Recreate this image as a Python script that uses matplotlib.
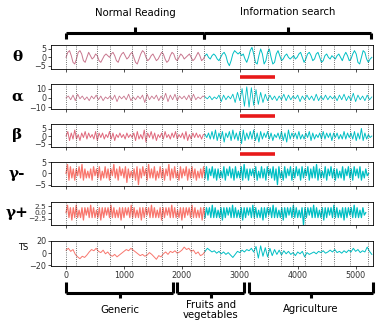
import matplotlib
matplotlib.use("Agg")
import matplotlib.pyplot as plt
import matplotlib.transforms as mtransforms
import numpy as np

# sample spacing of every band
theta_step = 30
theta = [0, 3, 4, 1, -3, -4, -1, 3, 4, 2, -2, -3, 0, 3, 1, -1, 0, 2, 1, -2,
         -3, -1, 1, 2, 1, 0, 2, 3, 1, -2, -3, 0, 2, 3, 1, -1, 0, 2, 3, 0,
         -3, -4, -1, 2, 4, 3, 0, -2, -1, 1, 2, 0, -2, -1, 1, 3, 2, -1, -3, -2,
         1, 3, 2, -1, -2, 0, 2, 1, -1, 0, 1, 2, 0, -2, -1, 1, 3, 1, -2, -1,
         1, 2, 0, -1, 1, 2, 1, -1, -2, 0, 2, 3, 1, -3, -5, -2, 2, 4, 3, 2,
         3, 1, 2, -1, -3, 0, 4, 6, 2, -3, -4, 1, 5, 2, -4, -2, 3, 5, 0, -4,
         -3, 2, 4, 1, -2, -1, 1, 2, 0, -1, 0, 1, -1, 0, 2, 3, 0, -3, -1, 2,
         3, 1, -2, -1, 2, 3, 0, -3, -2, 1, 2, 0, -1, 1, 0, -1, 1, 2, 0, -2,
         1, 3, 1, -2, -1, 2, 4, 2, -3, -4, 0, 4, 3, -1, -3, -1, 0]

alpha_step = 40
alpha = [0, 2, -2, 3, -3, 4, -1, 2, -2, 1, -3, 2, -1, 3, -2, 2, -3, 1, -1, 2,
         -2, 3, -4, 2, -1, 2, -2, 4, -3, 1, -2, 2, -1, 3, -5, 4, -2, 2, -1, 3,
         -3, 2, -2, 5, -4, 3, -2, 4, -3, 2, -1, 2, -2, 3, -3, 4, -2, 1, -1, 2,
         1, -1, 2, -2, 1, -1, 3, -4, 3, -2, 2, -1, 4, -5, 6, -3, 10, -9, 12, -10,
         11, -8, 9, -7, 6, -5, 4, -3, 3, -2, 2, -3, 2, -2, 4, -3, 3, -2, 2, -1,
         3, -4, 2, -2, 3, -2, 2, -3, 4, -3, 2, -2, 3, -2, 2, -1, 2, -3, 3, -2,
         4, -3, 2, -3, 5, -4, 3, -2, 2, -3, 3, -2, 1]

beta_step = 30
beta = [0, 3, -3, 2, -2, 4, -2, 1, -3, 2, -1, 3, -2, 2, -1, 1, -2, 3, -3, 2,
        -1, 2, -2, 1, -1, 3, -2, 2, -3, 1, -1, 2, -1, 1, -2, 2, -1, 1, -1, 2,
        -3, 3, -2, 1, -2, 4, -4, 2, -1, 3, -2, 2, -3, 1, -1, 2, -2, 3, -1, 1,
        -2, 2, -1, 3, -2, 1, -1, 2, -2, 3, -3, 1, -2, 2, -1, 2, -1, 1, -2, 1,
        1, -1, 2, -2, 3, -2, 4, -3, 2, -2, 3, -4, 2, -1, 3, -3, 4, -2, 2, -3,
        3, -5, 4, -3, 2, -2, 3, -2, 4, -3, 2, -4, 3, -2, 2, -1, 3, -2, 2, -3,
        1, -1, 2, -2, 3, -3, 2, -4, 4, -2, 2, -1, 2, -2, 3, -2, 1, -2, 2, -1,
        3, -3, 2, -2, 1, -1, 2, -2, 3, -2, 2, -1, 2, -3, 2, -1, 2, -2, 1, -2,
        3, -2, 2, -1, 2, -2, 3, -3, 2, -2, 5, -3, 2, -2, 1, -1, 0]

gamma_step = 25
gamma_lo = [0, 4, -3, 3, -2, 2, -3, 2, -1, 3, -2, 4, -3, 2, -2, 1, -2, 2, -3, 3,
            -1, 2, -2, 3, -3, 1, -2, 3, -2, 2, -3, 2, -1, 4, -2, 2, -3, 3, -1, 2,
            -2, 3, -4, 2, -2, 1, -2, 2, -3, 3, -5, 2, -2, 3, -1, 2, -3, 4, -2, 2,
            -2, 3, -3, 1, -2, 3, -2, 2, -3, 2, -1, 4, -3, 2, -2, 3, -2, 1, -3, 3,
            -2, 2, -1, 3, -3, 2, -2, 3, -2, 2, -3, 1, -2, 2, -2, 3,
            -2, 3, -3, 2, -1, 3, -2, 2, -3, 2, -2, 1, -2, 3, -3, 2, -1, 3, -2, 2,
            -3, 3, -2, 1, -2, 3, -3, 4, -2, 2, -3, 2, -1, 2, -2, 3, -3, 1, -2, 3,
            -2, 2, -3, 3, -1, 2, -2, 3, -3, 2, -5, 3, -2, 1, -3, 3, -2, 2, -1, 3,
            -3, 2, -2, 3, -1, 2, -3, 3, -2, 2, -1, 3, -3, 2, -2, 3, -2, 4, -3, 2,
            -2, 1, -2, 3, -3, 2, -1, 3, -2, 2, -3, 2, -2, 1, -2, 3, -3, 2, -1, 3,
            -2, 2, -3, 3, -1, 2, -2, 3, -3, 1, -2, 2, -1, 0]
gamma_hi = [0, 3, -2, 2, -3, 2, -2, 3, -2, 1, -2, 2, -3, 2, -1, 2, -2, 3, -2, 2,
            -2, 1, -2, 2, -3, 2, -2, 2, -1, 2, -2, 3, -2, 2, -2, 1, -2, 2, -3, 2,
            -2, 2, -1, 2, -2, 3, -2, 2, -2, 1, -2, 2, -3, 2, -2, 2, -1, 2, -2, 3,
            -2, 2, -2, 1, -2, 2, -3, 2, -2, 2, -1, 2, -2, 3, -2, 2, -2, 1, -2, 2,
            -3, 2, -2, 2, -1, 2, -2, 3, -2, 2, -2, 1, -2, 2, -3, 2,
            -2, 2, -1, 2, -2, 3, -2, 2, -2, 1, -2, 2, -3, 2, -2, 2, -1, 2, -2, 3,
            -2, 2, -2, 1, -2, 2, -3, 2, -2, 2, -1, 2, -2, 3, -2, 2, -2, 1, -2, 2,
            -3, 2, -2, 2, -1, 2, -2, 3, -2, 2, -2, 1, -2, 2, -3, 2, -2, 2, -1, 2,
            -2, 3, -2, 2, -2, 1, -2, 2, -5, 2, -2, 2, -1, 2, -2, 3, -2, 2, -2, 1,
            -2, 2, -3, 2, -2, 2, -1, 2, -2, 3, -2, 2, -2, 1, -2, 2, -3, 2, -2, 2,
            -1, 2, -2, 3, -2, 2, -2, 1, -2, 2, -1, 0]

ts_step = 40
ts = [5, 8, 3, 6, -2, -6, -9, -5, -7, -3, 2, 6, 4, 8, 3, 1, 5, -1, 2, -3,
      -5, -2, -6, -3, 0, 3, 6, 4, 8, 5, 2, -1, -4, -2, -5, -3, 1, -2, -6, -10,
      -4, -6, -1, 2, -2, 3, 1, 4, 0, 2, 5, 10, 6, 8, 3, 5, -1, 2, -4, -2,
      3, 8, 5, 2, 4, 0, 3, -1, 2, -2, 1, -3, -7, -2, 3, 1, 5, 2, 6, 4,
      8, 2, 11, -8, 12, -5, 9, -6, 8, -4, 6, -2, 5, -3, 4, -1, 3, -2, 1, -4,
      2, -1, 3, -6, 1, -2, 0, 2, -1, 3, 1, 4, 0, 2, 5, 2, 6, 1, 3, 0,
      4, 1, 5, 2, 8, 3, 6, 1, 4, 2, 10, 3, -2]

split_at = 2390
marks = [0, 170, 540, 760, 1130, 1380, 1660, 1920, 2150, 2390, 2660, 3010,
         3250, 3480, 3720, 3910, 4130, 4400, 4620, 4910, 5210]

labels = ["θ", "α", "β", "γ-", "γ+", "TS"]
series = [(theta, theta_step), (alpha, alpha_step), (beta, beta_step),
          (gamma_lo, gamma_step), (gamma_hi, gamma_step), (ts, ts_step)]
left_colors = ["#c8768e", "#c8768e", "#e0687c", "#F8766D", "#F8766D", "#F8766D"]
widths = [0.7, 0.6, 0.7, 0.9, 0.9, 0.7]
teal = "#00BFC4"

# panel boxes (pixels, top / bottom) and y limits
boxes = [(45, 69), (84, 109), (124, 147), (162, 186), (202, 225), (241, 266)]
ylims = [(-7, 7.4), (-12, 15), (-7.3, 8), (-5.6, 5.1), (-5, 4.3), (-21, 20)]
yticks = [[-5, 0, 5], [-10, 0, 10], [-5, 0, 5], [-5, 0, 5], [-2.5, 0, 2.5], [-20, 0, 20]]

W, H = 385, 322
fig = plt.figure(figsize=(3.85, 3.22), dpi=100)

axes = []
for i, (vals, step) in enumerate(series):
    top, bot = boxes[i]
    ax = fig.add_axes([51 / W, 1 - bot / H, (373 - 51) / W, (bot - top) / H])
    axes.append(ax)
    y = np.array(vals, dtype=float)
    x = np.arange(len(y)) * step
    k = int(np.searchsorted(x, split_at))
    ax.plot(x[:k + 1], y[:k + 1], color=left_colors[i], lw=widths[i])
    ax.plot(x[k:], y[k:], color=teal, lw=widths[i])
    for m in marks:
        ax.axvline(m, color="#444444", ls=":", lw=0.6)
    ax.set_xlim(-260, 5300)
    ax.set_ylim(*ylims[i])
    ax.set_yticks(yticks[i])
    ax.set_xticks([0, 1000, 2000, 3000, 4000, 5000])
    fs = 5.4 if i == 4 else 5.8
    ax.tick_params(labelsize=fs, length=2.5, width=0.6, pad=1, colors="#333333")
    if i < 5:
        ax.set_xticklabels([])
    for s in ax.spines.values():
        s.set_linewidth(0.6)
    yc = 1 - (top + bot) / 2 / H
    if labels[i] == "TS":
        fig.text(23 / W, 1 - 248 / H, "TS", fontsize=6, ha="center", va="center")
    else:
        fig.text(17 / W, yc, labels[i], fontsize=11, fontweight="bold",
                 family="DejaVu Serif", ha="center", va="center")

trans = mtransforms.blended_transform_factory(axes[0].transData, fig.transFigure)


def fy(py):
    return 1 - py / H


def bracket(x0, x1, ybar, yend, ytick):
    kw = dict(transform=trans, color="black", lw=2.2, solid_capstyle="butt",
              clip_on=False)
    fig.add_artist(plt.Line2D([x0, x1], [fy(ybar), fy(ybar)], **kw))
    fig.add_artist(plt.Line2D([x0, x0], [fy(ybar), fy(yend)], **kw))
    fig.add_artist(plt.Line2D([x1, x1], [fy(ybar), fy(yend)], **kw))
    xm = (x0 + x1) / 2
    fig.add_artist(plt.Line2D([xm, xm], [fy(ybar), fy(ytick)], **kw))
    return xm


# top brackets
xm = bracket(0, 2390, 33, 39, 27)
fig.text(xm, fy(13), "Normal Reading", transform=trans, fontsize=7.3,
         ha="center", va="center")
xm = bracket(2390, 5270, 33, 39, 27)
fig.text(xm, fy(12), "Information search", transform=trans, fontsize=7.3,
         ha="center", va="center")

# bottom brackets
xm = bracket(0, 1850, 293, 282, 298)
fig.text(xm, fy(310), "Generic", transform=trans, fontsize=7.3, ha="center", va="center")
xm = bracket(1920, 3080, 293, 282, 298)
fig.text(xm, fy(310), "Fruits and\nvegetables", transform=trans, fontsize=7.3,
         ha="center", va="center", linespacing=1.1)
xm = bracket(3166, 5294, 293, 282, 298)
fig.text(xm, fy(309), "Agriculture", transform=trans, fontsize=7.3, ha="center", va="center")

# red bars between panels
for py in [77, 116, 154]:
    fig.add_artist(plt.Line2D([3000, 3600], [fy(py), fy(py)], transform=trans,
                              color="#e8191a", lw=2.6, solid_capstyle="butt"))

fig.savefig("out.png", dpi=100)
